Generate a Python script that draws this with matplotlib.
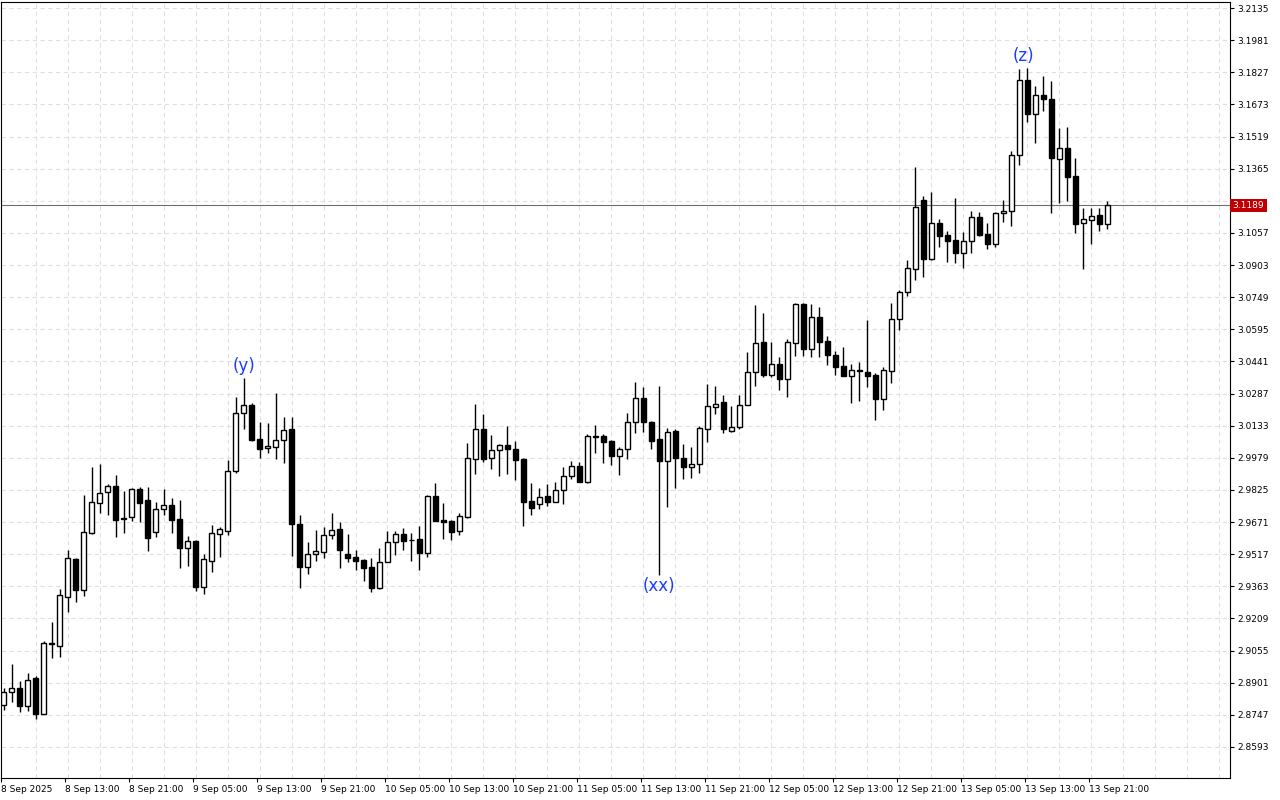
import numpy as np
import matplotlib
matplotlib.use('Agg')
from matplotlib import pyplot as plt
from matplotlib.patches import Rectangle

# hourly OHLC, 8 Sep 2025 onwards
opens = [2.8796,2.8858,2.8877,2.8791,2.8921,2.8753,2.9088,2.9079,2.9313,2.9495,
         2.9347,2.9620,2.9764,2.9816,2.9845,2.9687,2.9697,2.9831,2.9778,2.9625,
         2.9735,2.9754,2.9687,2.9548,2.9582,2.9361,2.9486,2.9615,2.9630,2.9917,
         3.0195,3.0233,3.0070,3.0027,3.0032,3.0065,3.0118,2.9663,2.9457,2.9519,
         2.9529,2.9610,2.9639,2.9519,2.9505,2.9491,2.9457,2.9356,2.9481,2.9577,
         2.9615,2.9586,2.9591,2.9524,2.9797,2.9682,2.9677,2.9630,2.9697,2.9974,
         3.0118,2.9979,3.0017,3.0041,3.0022,2.9974,2.9773,2.9759,2.9797,2.9768,
         2.9826,2.9893,2.9941,2.9864,3.0080,3.0085,3.0061,2.9989,3.0022,3.0152,
         3.0267,3.0152,3.0070,2.9965,3.0109,2.9979,2.9936,2.9950,3.0118,3.0224,
         3.0247,3.0109,3.0128,3.0233,3.0391,3.0535,3.0377,3.0429,3.0358,3.0530,
         3.0717,3.0501,3.0655,3.0540,3.0473,3.0420,3.0372,3.0401,3.0391,3.0377,
         3.0262,3.0396,3.0645,3.0774,3.0884,3.1215,3.0932,3.1105,3.1047,3.1023,
         3.0961,3.1019,3.1134,3.1052,3.1004,3.1153,3.1162,3.1431,3.1790,3.1627,
         3.1718,3.1699,3.1411,3.1464,3.1330,3.1105,3.1119,3.1143,3.1100]
highs = [2.8877,2.8992,2.8911,2.8949,2.8935,2.9103,2.9194,2.9352,2.9538,2.9500,
         2.9802,2.9936,2.9950,2.9855,2.9898,2.9821,2.9835,2.9840,2.9840,2.9768,
         2.9831,2.9788,2.9778,2.9606,2.9584,2.9519,2.9658,2.9649,2.9970,3.0271,
         3.0362,3.0243,3.0152,3.0147,3.0291,3.0176,3.0176,2.9706,2.9577,2.9634,
         2.9649,2.9716,2.9673,2.9615,2.9538,2.9495,2.9500,2.9548,2.9630,2.9630,
         2.9644,2.9620,2.9653,2.9802,2.9859,2.9764,2.9682,2.9716,3.0051,3.0238,
         3.0190,3.0089,3.0046,3.0132,3.0061,2.9979,2.9859,2.9835,2.9855,2.9864,
         2.9936,2.9965,2.9960,3.0094,3.0137,3.0094,3.0063,3.0032,3.0195,3.0343,
         3.0319,3.0157,3.0324,3.0123,3.0118,3.0046,3.0032,3.0132,3.0334,3.0324,
         3.0281,3.0228,3.0281,3.0487,3.0712,3.0674,3.0535,3.0463,3.0549,3.0722,
         3.0719,3.0717,3.0702,3.0564,3.0492,3.0511,3.0429,3.0439,3.0640,3.0386,
         3.0415,3.0722,3.0784,3.0928,3.1373,3.1234,3.1253,3.1124,3.1067,3.1225,
         3.1062,3.1162,3.1158,3.1105,3.1158,3.1215,3.1450,3.1842,3.1847,3.1761,
         3.1809,3.1785,3.1560,3.1565,3.1416,3.1177,3.1177,3.1177,3.1210]
lows = [2.8772,2.8810,2.8758,2.8767,2.8729,2.8753,2.9021,2.9026,2.9242,2.9289,
        2.9318,2.9615,2.9716,2.9706,2.9601,2.9620,2.9677,2.9673,2.9534,2.9601,
        2.9706,2.9620,2.9452,2.9462,2.9342,2.9328,2.9433,2.9505,2.9610,2.9907,
        3.0118,3.0061,2.9979,3.0003,2.9974,2.9955,2.9510,2.9356,2.9424,2.9486,
        2.9500,2.9591,2.9452,2.9481,2.9443,2.9390,2.9337,2.9352,2.9481,2.9515,
        2.9538,2.9486,2.9443,2.9505,2.9677,2.9591,2.9586,2.9610,2.9692,2.9903,
        2.9960,2.9926,2.9893,2.9903,2.9874,2.9653,2.9706,2.9735,2.9749,2.9768,
        2.9759,2.9879,2.9864,2.9859,3.0003,2.9955,2.9946,2.9898,2.9974,3.0099,
        3.0104,3.0022,2.9419,2.9744,2.9835,2.9879,2.9883,2.9907,3.0056,3.0190,
        3.0099,3.0104,3.0118,3.0233,3.0324,3.0367,3.0367,3.0305,3.0271,3.0468,
        3.0468,3.0463,3.0463,3.0425,3.0377,3.0372,3.0243,3.0252,3.0319,3.0161,
        3.0209,3.0338,3.0592,3.0755,3.0832,3.0846,3.0928,3.0990,3.0918,3.0913,
        3.0889,3.0961,3.1043,3.0980,3.0990,3.1110,3.1090,3.1383,3.1589,3.1488,
        3.1641,3.1153,3.1201,3.1210,3.1057,3.0884,3.1004,3.1067,3.1076]
closes = [2.8854,2.8877,2.8791,2.8916,2.8753,2.9093,2.9093,2.9323,2.9500,2.9347,
          2.9625,2.9768,2.9812,2.9845,2.9682,2.9685,2.9831,2.9764,2.9596,2.9735,
          2.9754,2.9682,2.9548,2.9582,2.9361,2.9495,2.9620,2.9639,2.9917,3.0195,
          3.0233,3.0065,3.0022,3.0037,3.0065,3.0113,2.9663,2.9457,2.9519,2.9534,
          2.9610,2.9634,2.9538,2.9500,2.9486,2.9452,2.9356,2.9481,2.9577,2.9615,
          2.9582,2.9584,2.9524,2.9797,2.9677,2.9673,2.9625,2.9701,2.9979,3.0118,
          2.9974,3.0017,3.0041,3.0022,2.9970,2.9768,2.9740,2.9792,2.9768,2.9826,
          2.9893,2.9941,2.9864,3.0085,3.0082,3.0056,2.9989,3.0022,3.0152,3.0267,
          3.0152,3.0061,2.9965,3.0104,2.9979,2.9936,2.9950,3.0123,3.0228,3.0238,
          3.0118,3.0128,3.0233,3.0391,3.0530,3.0377,3.0429,3.0358,3.0535,3.0717,
          3.0501,3.0655,3.0535,3.0473,3.0415,3.0372,3.0401,3.0396,3.0372,3.0262,
          3.0401,3.0645,3.0774,3.0889,3.1181,3.0932,3.1105,3.1043,3.1019,3.0961,
          3.1019,3.1134,3.1047,3.1004,3.1153,3.1162,3.1431,3.1790,3.1627,3.1718,
          3.1699,3.1416,3.1464,3.1325,3.1100,3.1124,3.1138,3.1100,3.1189]

time_labels = ['8 Sep 2025', '8 Sep 13:00', '8 Sep 21:00', '9 Sep 05:00', '9 Sep 13:00',
               '9 Sep 21:00', '10 Sep 05:00', '10 Sep 13:00', '10 Sep 21:00', '11 Sep 05:00',
               '11 Sep 13:00', '11 Sep 21:00', '12 Sep 05:00', '12 Sep 13:00', '12 Sep 21:00',
               '13 Sep 05:00', '13 Sep 13:00', '13 Sep 21:00']
price_ticks = [2.8593, 2.8747, 2.8901, 2.9055, 2.9209, 2.9363, 2.9517, 2.9671, 2.9825,
               2.9979, 3.0133, 3.0287, 3.0441, 3.0595, 3.0749, 3.0903, 3.1057, 3.1211,
               3.1365, 3.1519, 3.1673, 3.1827, 3.1981, 3.2135]
# wave labels: (candle index, text, anchor price, above?)
waves = [(30, '(y)', 3.0362, True), (82, '(xx)', 2.9419, False), (127.5, '(z)', 3.1847, True)]

fig = plt.figure(figsize=(12.8, 8), dpi=100)
ax = fig.add_axes([0.001, 22/800, 1229/1280, 776/800])
ax.set_xlim(-0.3, 153.4)
ax.set_ylim(2.8444, 3.2164)

for i in range(len(opens)):
    o, h, l, c = opens[i], highs[i], lows[i], closes[i]
    ax.plot([i, i], [l, h], color='black', lw=1, zorder=3, solid_capstyle='butt')
    lo, hi = min(o, c), max(o, c)
    fill = 'white' if c >= o else 'black'
    ax.add_patch(Rectangle((i - 0.3, lo), 0.6, max(hi - lo, 0.0003),
                           facecolor=fill, edgecolor='black', lw=1, zorder=4))

# grid
for x in np.arange(4, 154, 4):
    ax.axvline(x, color='#e0e0e0', ls=(0, (4, 3)), lw=0.8, zorder=1)
for p in price_ticks:
    ax.axhline(p, color='#e0e0e0', ls=(0, (4, 3)), lw=0.8, zorder=1)

last = closes[-1]
ax.axhline(last, color='#707070', lw=0.8, zorder=2)

for xi, txt, p, above in waves:
    if above:
        ax.annotate(txt, (xi, p), xytext=(0, 2), textcoords='offset points',
                    ha='center', va='bottom', color='#1a3cff', fontsize=12)
    else:
        ax.annotate(txt, (xi, p), xytext=(0, -2), textcoords='offset points',
                    ha='center', va='top', color='#1a3cff', fontsize=12)

ax.yaxis.tick_right()
ax.set_yticks(price_ticks)
# the level next to the last price is hidden by the price box
ax.set_yticklabels(['' if abs(p - last) < 0.004 else '%.4f' % p for p in price_ticks],
                   fontsize=6.5)
ax.set_xticks(np.arange(0, 8 * len(time_labels), 8) - 0.3)
ax.set_xticklabels(time_labels, fontsize=6.5, ha='left')
ax.tick_params(length=3, width=0.8, pad=2)
for s in ax.spines.values():
    s.set_linewidth(0.8)

ax.text(1.002, last, '%.4f' % last, transform=ax.get_yaxis_transform(),
        fontsize=6.5, color='white', va='center', ha='left',
        bbox=dict(boxstyle='square,pad=0.25', facecolor='#c00000', edgecolor='none'))

fig.savefig('out.png', dpi=100)
